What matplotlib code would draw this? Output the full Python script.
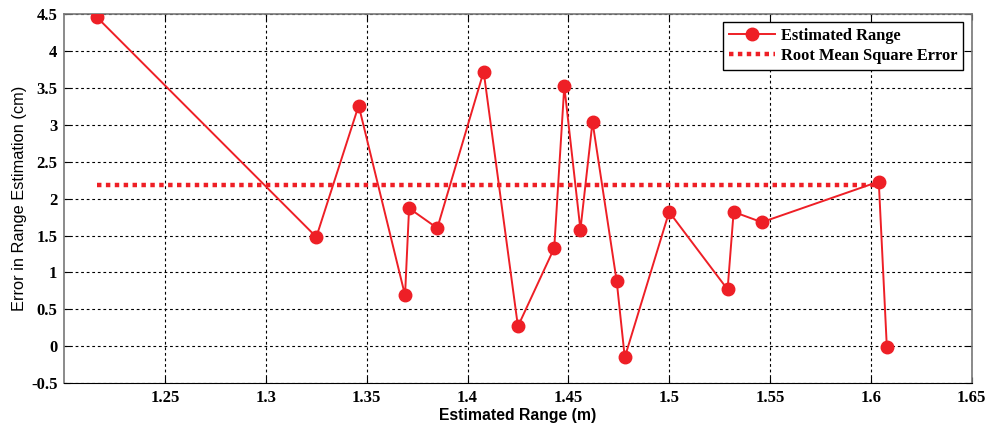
import matplotlib
matplotlib.use("Agg")
import matplotlib.pyplot as plt

# estimated range (m) and error (cm)
est_range = [1.216, 1.325, 1.346, 1.369, 1.371, 1.385, 1.408, 1.425, 1.443, 1.448,
             1.456, 1.462, 1.474, 1.478, 1.500, 1.529, 1.532, 1.546, 1.604, 1.608]
range_error = [4.46, 1.48, 3.26, 0.69, 1.87, 1.60, 3.72, 0.27, 1.33, 3.52,
               1.58, 3.04, 0.88, -0.15, 1.82, 0.77, 1.82, 1.68, 2.23, -0.01]
rmse = 2.18

x_ticks = [1.25, 1.3, 1.35, 1.4, 1.45, 1.5, 1.55, 1.6, 1.65]
y_ticks = [-0.5, 0, 0.5, 1, 1.5, 2, 2.5, 3, 3.5, 4, 4.5]

RED = "#ee1f26"

fig = plt.figure(figsize=(9.87, 4.23), dpi=100)
ax = fig.add_axes([0.0652, 0.094, 0.9191, 0.873])

ax.plot(est_range, range_error, color=RED, lw=1.4, marker="o", markersize=9,
        label="Estimated Range", zorder=3)
ax.plot([est_range[0], est_range[-2]], [rmse, rmse], color=RED, lw=3.2,
        linestyle=(0, (1, 1)), label="Root Mean Square Error", zorder=2)

ax.set_xlim(1.2, 1.65)
ax.set_ylim(-0.5, 4.5)
ax.set_xticks(x_ticks)
ax.set_xticklabels([f"{t:g}" for t in x_ticks])
ax.set_yticks(y_ticks)
ax.set_yticklabels([f"{t:g}" for t in y_ticks])

ax.grid(True, color="black", linestyle=(0, (2.5, 2.5)), linewidth=0.8)
ax.tick_params(direction="in", top=True, right=True, length=4, width=0.8, pad=5)
for lbl in ax.get_xticklabels() + ax.get_yticklabels():
    lbl.set_fontfamily("Liberation Serif")
    lbl.set_fontweight("bold")
    lbl.set_fontsize(12)

for side in ["left", "top", "right"]:
    ax.spines[side].set_color("#777777")
    ax.spines[side].set_linewidth(1.2)
ax.spines["bottom"].set_color("black")

ax.set_xlabel("Estimated Range (m)", fontfamily="Liberation Sans", fontweight="bold",
              fontsize=11.3, labelpad=1)
ax.set_ylabel("Error in Range Estimation (cm)", fontfamily="Liberation Sans",
              fontsize=11.8, labelpad=3)

leg = ax.legend(loc="upper right", prop={"family": "Liberation Serif", "weight": "bold", "size": 11.8},
                fancybox=False, framealpha=1, edgecolor="black", handlelength=2.8,
                handletextpad=0.4, borderaxespad=0.5, borderpad=0.35, labelspacing=0.25)
leg.get_frame().set_linewidth(1.0)

fig.savefig("out.png", dpi=100)
